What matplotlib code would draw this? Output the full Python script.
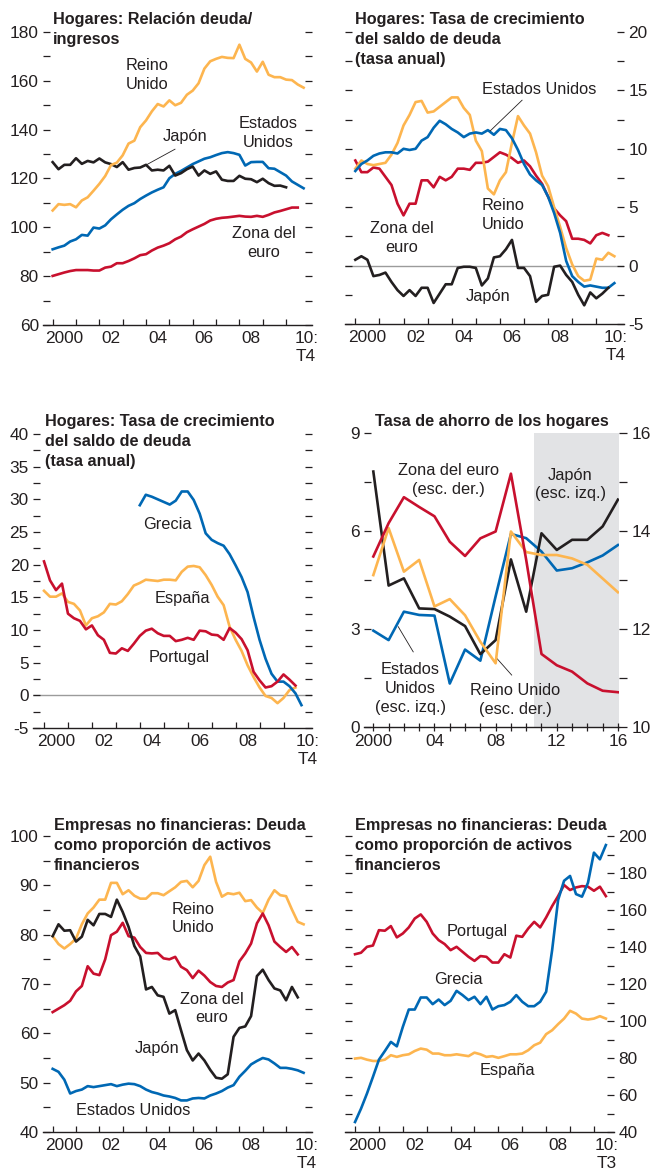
import numpy as np
import matplotlib.pyplot as plt
from matplotlib.ticker import MultipleLocator

plt.rcParams['font.family'] = ['Liberation Sans', 'DejaVu Sans']
plt.rcParams['axes.unicode_minus'] = False

YELLOW = '#FDB54F'
BLUE = '#0068B4'
RED = '#C8102E'
BLACK = '#231F20'
TXT = '#231F20'

# --- Hogares: relacion deuda/ingresos (trimestral desde 2000 T1)
uk_debt_inc = [106.9, 109.5, 109.2, 109.5, 108.2, 111.0, 112.3, 115.0, 117.8, 121.0, 125.5,
               126.5, 129.5, 134.3, 135.5, 141.0, 143.8, 147.5, 150.5, 149.5, 152.0, 150.0,
               151.0, 154.3, 156.0, 159.0, 165.0, 168.0, 169.0, 169.8, 169.4, 169.3, 174.8,
               169.0, 167.5, 163.8, 167.8, 162.5, 161.5, 161.5, 160.5, 160.3, 158.5, 157.2]
us_debt_inc = [91.0, 91.8, 92.5, 94.2, 95.1, 96.9, 96.6, 99.9, 99.5, 100.8, 103.3, 105.3,
               107.2, 108.8, 109.9, 111.6, 113.0, 114.3, 115.4, 116.4, 120.1, 121.9, 123.1,
               124.5, 125.9, 127.0, 128.1, 128.7, 129.6, 130.4, 130.8, 130.4, 129.7, 125.3,
               126.7, 126.8, 126.8, 124.2, 124.0, 122.6, 121.2, 118.8, 117.4, 116.0]
jp_debt_inc = [126.7, 123.8, 125.6, 125.6, 128.3, 126.0, 127.2, 126.6, 128.2, 126.6, 125.9,
               124.7, 126.7, 123.6, 124.3, 124.5, 125.6, 123.3, 123.6, 123.3, 125.2, 121.2,
               122.2, 123.8, 124.9, 121.2, 123.3, 121.9, 122.9, 119.5, 119.0, 119.0, 121.1,
               119.9, 119.7, 118.5, 119.9, 118.1, 117.0, 117.1, 116.4]
ea_debt_inc = [80.1, 80.8, 81.5, 82.1, 82.5, 82.5, 82.5, 82.3, 82.3, 83.5, 83.9, 85.3, 85.3,
               86.2, 87.3, 88.6, 89.0, 90.5, 91.7, 92.5, 93.5, 95.1, 96.2, 98.0, 99.2, 100.3,
               101.4, 102.8, 103.5, 103.9, 104.1, 104.4, 104.7, 104.4, 104.3, 104.7, 104.3,
               105.1, 106.1, 106.7, 107.4, 108.1, 108.1]

# --- Hogares: tasa de crecimiento del saldo de deuda
us_growth = [8.1, 8.7, 9.0, 9.4, 9.6, 9.7, 9.7, 9.6, 10.0, 9.9, 10.0, 10.7, 11.0, 11.8, 12.4,
             12.1, 11.7, 11.4, 11.0, 11.3, 11.4, 11.3, 11.6, 11.2, 11.7, 11.6, 10.9, 9.9, 8.7,
             7.8, 7.3, 6.9, 5.9, 4.5, 2.8, 0.4, -0.9, -1.4, -1.8, -1.7, -1.8, -1.9, -1.9, -1.5]
uk_growth = [8.3, 9.0, 8.7, 8.6, 8.7, 8.8, 9.5, 10.5, 12.0, 12.9, 14.0, 14.1, 13.1, 13.2, 13.6,
             14.0, 14.4, 14.4, 13.5, 12.9, 10.7, 9.8, 6.6, 6.1, 7.3, 8.0, 10.5, 12.8, 12.0,
             11.3, 9.7, 7.7, 6.8, 5.0, 3.3, 1.5, 0.1, -0.9, -1.3, -1.2, 0.6, 0.5, 1.1, 0.8]
ea_growth = [9.0, 8.0, 8.0, 8.4, 8.3, 7.6, 6.9, 5.3, 4.3, 5.3, 5.3, 7.3, 7.3, 6.7, 7.6, 7.3,
             7.6, 8.3, 8.3, 8.2, 8.8, 8.8, 8.9, 9.3, 9.7, 9.5, 9.2, 8.8, 9.0, 8.5, 7.7, 7.0,
             5.9, 4.9, 4.3, 3.8, 2.3, 2.3, 2.2, 1.9, 2.6, 2.8, 2.6]
jp_growth = [0.5, 0.8, 0.5, -0.9, -0.8, -0.6, -1.4, -2.1, -2.6, -2.1, -2.6, -1.9, -1.9, -3.2,
             -2.4, -1.6, -1.6, -0.2, -0.1, -0.1, -0.2, -1.7, -1.1, 0.7, 0.8, 1.4, 2.2, -0.2,
             -0.2, -0.9, -3.1, -2.6, -2.5, -0.1, 0.0, -0.8, -1.4, -2.5, -3.4, -2.3, -2.8,
             -2.4, -1.9]

# --- Hogares: crecimiento deuda, periferia
pt_growth = [20.5, 17.6, 16.1, 17.1, 12.5, 11.8, 11.4, 10.1, 10.7, 9.2, 8.5, 6.5, 6.4, 7.2,
             6.8, 7.9, 9.1, 9.9, 10.2, 9.5, 9.1, 9.1, 8.3, 8.5, 8.8, 8.5, 9.9, 9.8, 9.3, 9.2,
             8.5, 10.3, 9.6, 8.6, 6.9, 3.6, 2.3, 1.2, 1.4, 2.1, 3.2, 2.4, 1.5]
es_growth = [16.0, 15.1, 15.1, 15.6, 14.3, 14.0, 13.0, 10.7, 11.8, 12.1, 12.7, 14.0, 13.9,
             14.4, 15.5, 16.8, 17.2, 17.7, 17.6, 17.5, 17.7, 17.7, 17.6, 18.9, 19.7, 19.8,
             19.6, 18.4, 16.9, 15.1, 13.8, 10.5, 8.5, 6.8, 4.6, 2.8, 1.2, -0.1, -0.4, -1.2,
             -0.4, 0.8, 1.2]
gr_growth = [29.1, 30.7, 30.4, 30.0, 29.6, 29.2, 29.8, 31.2, 31.2, 29.9, 27.8, 24.8, 23.8,
             23.3, 22.9, 21.6, 19.9, 18.1, 15.8, 12.0, 8.5, 5.6, 3.3, 2.1, 2.1, 1.4, 0.3, -1.5]
gr_start = 2004.0

# --- Tasa de ahorro de los hogares (anual)
sav_years = list(range(2000, 2017))
jp_saving = [7.82, 4.33, 4.55, 3.63, 3.61, 3.38, 3.09, 2.23, 2.66, 5.13, 3.53, 5.93, 5.42,
             5.73, 5.73, 6.14, 6.96]
us_saving = [2.95, 2.66, 3.53, 3.43, 3.41, 1.33, 2.37, 2.03, 4.0, 5.91, 5.78, 5.37, 4.79,
             4.86, 5.04, 5.25, 5.57]
ea_saving = [13.48, 14.16, 14.69, 14.49, 14.30, 13.78, 13.49, 13.85, 13.99, 15.17, 13.41,
             11.49, 11.26, 11.13, 10.89, 10.74, 10.71]
uk_saving = [13.10, 14.06, 13.17, 13.41, 12.46, 12.61, 12.28, 11.74, 11.30, 13.99, 13.57,
             13.51, 13.51, 13.44, 13.31, 13.03, 12.75]

# --- Empresas no financieras: deuda / activos financieros
uk_corp = [79.7, 78.1, 77.2, 78.1, 79.2, 82.1, 84.3, 85.5, 87.1, 87.1, 90.5, 90.5, 88.2, 89.0,
           87.9, 87.3, 87.3, 88.4, 88.4, 88.0, 88.8, 89.6, 90.7, 90.9, 89.6, 90.9, 94.1, 95.8,
           90.7, 87.7, 88.4, 88.2, 88.5, 86.8, 87.0, 85.5, 84.4, 87.1, 89.0, 88.0, 87.8, 85.1,
           82.6, 82.1]
jp_corp = [79.7, 82.1, 80.8, 80.9, 78.6, 79.6, 83.0, 81.9, 84.2, 84.2, 83.6, 87.1, 84.6, 81.6,
           77.7, 75.6, 68.9, 69.4, 67.7, 67.4, 64.0, 64.7, 60.6, 56.6, 54.5, 55.9, 54.5, 52.6,
           51.0, 50.8, 51.7, 59.3, 61.1, 61.4, 63.5, 71.6, 72.9, 70.8, 69.1, 68.7, 66.7, 69.4,
           67.3]
ea_corp = [64.3, 65.0, 65.7, 66.6, 68.5, 69.6, 73.6, 72.1, 71.8, 75.0, 79.9, 80.6, 82.4, 79.7,
           79.4, 77.5, 76.3, 76.2, 76.3, 75.2, 75.0, 75.5, 73.5, 72.8, 71.2, 72.7, 71.7, 70.4,
           69.6, 69.4, 70.3, 70.8, 74.6, 76.2, 78.2, 82.3, 84.3, 81.9, 78.6, 77.5, 76.5, 77.5,
           76.0]
us_corp = [52.8, 52.2, 50.6, 47.8, 48.3, 48.6, 49.3, 49.1, 49.3, 49.5, 49.7, 49.3, 49.6, 49.8,
           49.7, 49.3, 48.6, 48.1, 47.8, 47.4, 47.2, 46.9, 46.4, 46.4, 46.8, 46.9, 46.8, 47.4,
           47.8, 48.3, 49.0, 49.5, 51.2, 52.4, 53.7, 54.4, 55.0, 54.7, 53.9, 53.0, 53.0, 52.8,
           52.5, 52.0]

pt_corp = [136.1, 136.9, 140.1, 140.8, 149.1, 148.8, 151.3, 145.2, 147.3, 150.6, 155.4, 157.6,
           153.6, 147.3, 143.7, 141.6, 138.3, 140.1, 137.4, 134.7, 132.5, 135.1, 134.7, 131.6,
           131.6, 136.1, 134.3, 146.1, 145.5, 150.0, 153.6, 150.6, 156.0, 162.1, 167.5, 173.5,
           170.8, 172.2, 172.9, 172.6, 170.4, 172.6, 167.5]
gr_corp = [45.4, 52.6, 60.8, 69.8, 79.1, 83.8, 88.7, 86.3, 96.8, 106.2, 106.2, 112.7, 112.7,
           109.1, 111.6, 108.6, 110.9, 116.3, 114.0, 111.3, 113.1, 109.1, 113.1, 106.2, 108.0,
           108.6, 110.4, 114.0, 110.4, 108.0, 108.0, 110.4, 115.8, 138.3, 165.4, 175.8, 178.4,
           168.6, 167.2, 174.7, 191.0, 187.4, 195.1]
es_corp = [79.7, 80.1, 79.1, 78.4, 78.4, 79.1, 81.5, 80.6, 81.5, 82.0, 83.8, 85.1, 84.5, 82.4,
           82.4, 81.5, 81.5, 82.0, 81.5, 81.0, 82.9, 82.0, 80.6, 81.0, 80.1, 81.0, 82.0, 82.0,
           82.4, 84.2, 86.9, 88.3, 92.9, 95.0, 98.3, 101.3, 105.5, 104.0, 101.3, 100.8, 101.3,
           102.6, 101.3]

W, H = 654, 1174
fig = plt.figure(figsize=(W / 100, H / 100), dpi=100)


def quarters(vals, start=2000.0):
    return start + np.arange(len(vals)) / 4.0


def add_ax(left, top, right, bottom):
    return fig.add_axes([left / W, 1 - bottom / H, (right - left) / W, (bottom - top) / H])


def fig_text(x, y, s, **kw):
    fig.text(x / W, 1 - y / H, s, **kw)


def base(ax, xlim, ylim, major, minor, labels_left=True):
    ax.set_xlim(*xlim)
    ax.set_ylim(*ylim)
    for s in ('top', 'left', 'right'):
        ax.spines[s].set_visible(False)
    ax.spines['bottom'].set_color(TXT)
    ax.spines['bottom'].set_linewidth(1.0)
    ax.yaxis.set_major_locator(MultipleLocator(major))
    ax.yaxis.set_minor_locator(MultipleLocator(minor))
    ax.tick_params(axis='y', which='both', direction='in', length=5, width=0.9, color=TXT,
                   left=True, right=True, labelleft=labels_left, labelright=not labels_left,
                   labelsize=12.4, labelcolor=TXT, pad=3)
    ax.set_facecolor('none')


def quarterly_x(ax, last_label, last_pos, end_year=2010):
    ax.set_xticks(range(2000, end_year + 1))
    ax.set_xticklabels([])
    ax.set_xticks([2000.5, 2002.5, 2004.5, 2006.5, 2008.5, last_pos], minor=True)
    ax.set_xticklabels(['2000', '02', '04', '06', '08', '10:\n' + last_label], minor=True)
    ax.tick_params(axis='x', which='major', direction='in', length=4.5, width=0.9, color=TXT)
    ax.tick_params(axis='x', which='minor', length=0, labelsize=12.4, labelcolor=TXT, pad=4)
    for t in ax.xaxis.get_minorticklabels():
        t.set_linespacing(1.3)


def line(ax, x, y, c):
    ax.plot(x, y, color=c, lw=1.9, solid_joinstyle='round')


def label(ax, x, y, s, **kw):
    ax.text(x, y, s, ha='center', va='center', fontsize=11.8, color=TXT,
            linespacing=1.3, **kw)


def leader(ax, p1, p2):
    ax.plot([p1[0], p2[0]], [p1[1], p2[1]], color=TXT, lw=0.6)


TITLE = dict(fontsize=11.7, fontweight='bold', color=TXT, va='top', ha='left', linespacing=1.4)

# ---------------- panel 1
ax = add_ax(43, 32, 312, 325)
base(ax, (1999.586, 2011.11), (60, 180), 20, 10, labels_left=True)
quarterly_x(ax, 'T4', 2010.86)
line(ax, quarters(ea_debt_inc), ea_debt_inc, RED)
line(ax, quarters(us_debt_inc), us_debt_inc, BLUE)
line(ax, quarters(jp_debt_inc), jp_debt_inc, BLACK)
line(ax, quarters(uk_debt_inc), uk_debt_inc, YELLOW)
label(ax, 2004.03, 162.5, 'Reino\nUnido')
label(ax, 2005.67, 137.2, 'Japón')
leader(ax, (2005.24, 132.0), (2003.96, 125.3))
label(ax, 2009.24, 138.6, 'Estados\nUnidos')
label(ax, 2009.03, 93.5, 'Zona del\neuro')
fig_text(53, 12, 'Hogares: Relación deuda/\ningresos', **TITLE)

# ---------------- panel 2
ax = add_ax(345, 32, 624, 324)
base(ax, (1999.571, 2011.15), (-5, 20), 5, 2.5, labels_left=False)
quarterly_x(ax, 'T4', 2010.79)
ax.axhline(0, color='#9B9B9B', lw=1.0, zorder=1)
line(ax, quarters(ea_growth), ea_growth, RED)
line(ax, quarters(uk_growth), uk_growth, YELLOW)
line(ax, quarters(us_growth), us_growth, BLUE)
line(ax, quarters(jp_growth), jp_growth, BLACK)
label(ax, 2007.65, 15.07, 'Estados Unidos')
leader(ax, (2006.92, 14.16), (2005.60, 11.54))
label(ax, 2006.13, 4.33, 'Reino\nUnido')
label(ax, 2001.94, 2.34, 'Zona del\neuro')
label(ax, 2005.49, -2.65, 'Japón')
fig_text(355, 12, 'Hogares: Tasa de crecimiento\ndel saldo de deuda\n(tasa anual)', **TITLE)

# ---------------- panel 3
ax = add_ax(33, 434, 312, 728)
base(ax, (1999.54, 2011.19), (-5, 40), 5, 2.5, labels_left=True)
quarterly_x(ax, 'T4', 2011.0)
ax.axhline(0, color='#9B9B9B', lw=1.0, zorder=1)
line(ax, quarters(es_growth), es_growth, YELLOW)
line(ax, quarters(gr_growth, gr_start), gr_growth, BLUE)
line(ax, quarters(pt_growth), pt_growth, RED)
label(ax, 2005.16, 26.2, 'Grecia')
label(ax, 2005.79, 14.8, 'España')
label(ax, 2005.65, 5.8, 'Portugal')
fig_text(45, 414, 'Hogares: Tasa de crecimiento\ndel saldo de deuda\n(tasa anual)', **TITLE)

# ---------------- panel 4
ax = add_ax(364, 433, 619, 727)
ax2 = ax.twinx()
base(ax, (1999.39, 2016.07), (0, 9), 3, 1.5, labels_left=True)
ax.tick_params(axis='y', which='both', right=False)
ax2.set_ylim(10, 16)
for s in ('top', 'left', 'right', 'bottom'):
    ax2.spines[s].set_visible(False)
ax2.yaxis.set_major_locator(MultipleLocator(2))
ax2.yaxis.set_minor_locator(MultipleLocator(1))
ax2.tick_params(axis='y', which='both', direction='out', length=6, width=0.9, color=TXT,
                labelsize=12.4, labelcolor=TXT, pad=3)
ax.axvspan(2010.5, 2016.07, color='#E2E3E5', lw=0, zorder=0)
ax.set_xticks(sav_years)
ax.set_xticklabels(['2000' if y == 2000 else ('%02d' % (y % 100) if y % 4 == 0 else '')
                    for y in sav_years])
ax.tick_params(axis='x', direction='inout', length=6, width=0.9, color=TXT, labelsize=12.4,
               labelcolor=TXT, pad=2)
line(ax, sav_years, us_saving, BLUE)
line(ax, sav_years, jp_saving, BLACK)
line(ax2, sav_years, uk_saving, YELLOW)
line(ax2, sav_years, ea_saving, RED)
label(ax, 2004.93, 7.57, 'Zona del euro\n(esc. der.)')
label(ax, 2012.90, 7.42, 'Japón\n(esc. izq.)')
label(ax, 2002.43, 1.18, 'Estados\nUnidos\n(esc. izq.)')
leader(ax, (2002.61, 2.30), (2001.63, 3.07))
label(ax, 2009.27, 0.82, 'Reino Unido\n(esc. der.)')
leader(ax, (2009.05, 1.59), (2008.08, 2.10))
fig_text(375, 414, 'Tasa de ahorro de los hogares', **TITLE)

# ---------------- panel 5
ax = add_ax(43, 836, 312, 1132)
base(ax, (1999.586, 2011.11), (40, 100), 10, 5, labels_left=True)
quarterly_x(ax, 'T4', 2010.89)
line(ax, quarters(us_corp), us_corp, BLUE)
line(ax, quarters(uk_corp), uk_corp, YELLOW)
line(ax, quarters(ea_corp), ea_corp, RED)
line(ax, quarters(jp_corp), jp_corp, BLACK)
label(ax, 2006.0, 83.3, 'Reino\nUnido')
label(ax, 2006.81, 65.0, 'Zona del\neuro')
label(ax, 2004.46, 56.9, 'Japón')
label(ax, 2003.46, 44.4, 'Estados Unidos')
fig_text(54, 818, 'Empresas no financieras: Deuda\ncomo proporción de activos\nfinancieros', **TITLE)

# ---------------- panel 6
ax = add_ax(345, 836, 614, 1132)
base(ax, (1999.58, 2010.84), (40, 200), 20, 10, labels_left=False)
quarterly_x(ax, 'T3', 2010.52)
line(ax, quarters(es_corp), es_corp, YELLOW)
line(ax, quarters(pt_corp), pt_corp, RED)
line(ax, quarters(gr_corp), gr_corp, BLUE)
label(ax, 2005.10, 148.2, 'Portugal')
label(ax, 2004.31, 122.4, 'Grecia')
label(ax, 2006.36, 73.0, 'España')
fig_text(355, 818, 'Empresas no financieras: Deuda\ncomo proporción de activos\nfinancieros', **TITLE)

fig.savefig('out.png', dpi=100, facecolor='white')
